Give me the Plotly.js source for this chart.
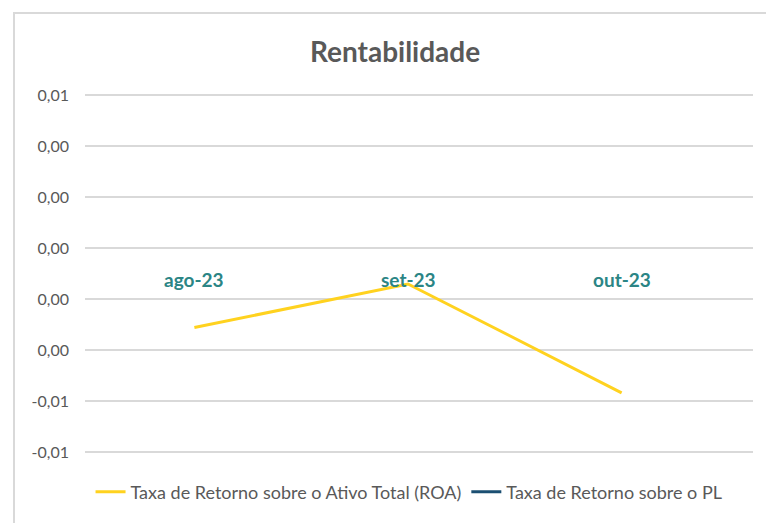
<!DOCTYPE html>
<html>
<head>
<meta charset="utf-8">
<script src="https://cdn.plot.ly/plotly-3.0.1.min.js"></script>
<style>
  html, body { margin: 0; padding: 0; background: #ffffff; }
  #wrap { position: relative; width: 766px; height: 523px; }
  #chart { width: 766px; height: 523px; }
  #frame { position: absolute; left: 13px; top: 12px; width: 760px; height: 520px;
           border-left: 2px solid #d9d9d9; border-top: 2px solid #d9d9d9; pointer-events: none; }
</style>
</head>
<body>
<div id="wrap">
  <div id="chart"></div>
  <div id="frame"></div>
</div>
<script>
// Data
const categories = ["ago-23", "set-23", "out-23"];
const roaValues = [-0.00312, -0.00141, -0.00568];
const plValues = [null, null, null];
const tickVals = [0.006, 0.004, 0.002, 0, -0.002, -0.004, -0.006, -0.008];
const tickText = ["0,01", "0,00", "0,00", "0,00", "0,00", "0,00", "-0,01", "-0,01"];
const seriesNames = ["Taxa de Retorno sobre o Ativo Total (ROA)", "Taxa de Retorno sobre o PL"];

const FONT = "Lato, 'Open Sans', sans-serif";

const traces = [
  {
    x: categories, y: roaValues, name: seriesNames[0], type: "scatter", mode: "lines",
    line: { color: "#FFD21F", width: 3 }, hoverinfo: "skip"
  },
  {
    x: categories, y: plValues, name: seriesNames[1], type: "scatter", mode: "lines",
    line: { color: "#1B4F72", width: 3 }, hoverinfo: "skip"
  }
];

const annotations = categories.map(c => ({
  x: c, y: 0, xref: "x", yref: "y", text: "<b>" + c + "</b>", showarrow: false,
  yanchor: "top", yshift: -18, font: { family: FONT, size: 19, color: "#2B8585" }
}));

const layout = {
  width: 766, height: 523,
  margin: { l: 85, r: 13, t: 93, b: 69 },
  paper_bgcolor: "#ffffff", plot_bgcolor: "#ffffff",
  title: {
    text: "<b>Rentabilidade</b>", xref: "container", x: 0.5157, xanchor: "center",
    yref: "container", y: 0.9, yanchor: "middle",
    font: { family: FONT, size: 28, color: "#595959" }
  },
  xaxis: {
    type: "category", range: [-0.512, 2.615], showticklabels: false, showgrid: false,
    zeroline: false, showline: false, ticks: "", fixedrange: true
  },
  yaxis: {
    range: [-0.00808, 0.00608], tickmode: "array", tickvals: tickVals, ticktext: tickText,
    showgrid: true, gridcolor: "#d9d9d9", gridwidth: 1.5, zeroline: false, showline: false,
    ticks: "", ticklabelstandoff: 15,
    tickfont: { family: FONT, size: 16, color: "#595959" }, fixedrange: true
  },
  showlegend: true,
  legend: {
    orientation: "h", xref: "container", yref: "container", x: 0.534, xanchor: "center",
    y: 0.059, yanchor: "middle", font: { family: FONT, size: 18, color: "#595959" },
    itemwidth: 30, tracegroupgap: 0, itemclick: false, itemdoubleclick: false
  },
  annotations: annotations
};

Plotly.newPlot("chart", traces, layout, { displayModeBar: false, staticPlot: true });
</script>
</body>
</html>
